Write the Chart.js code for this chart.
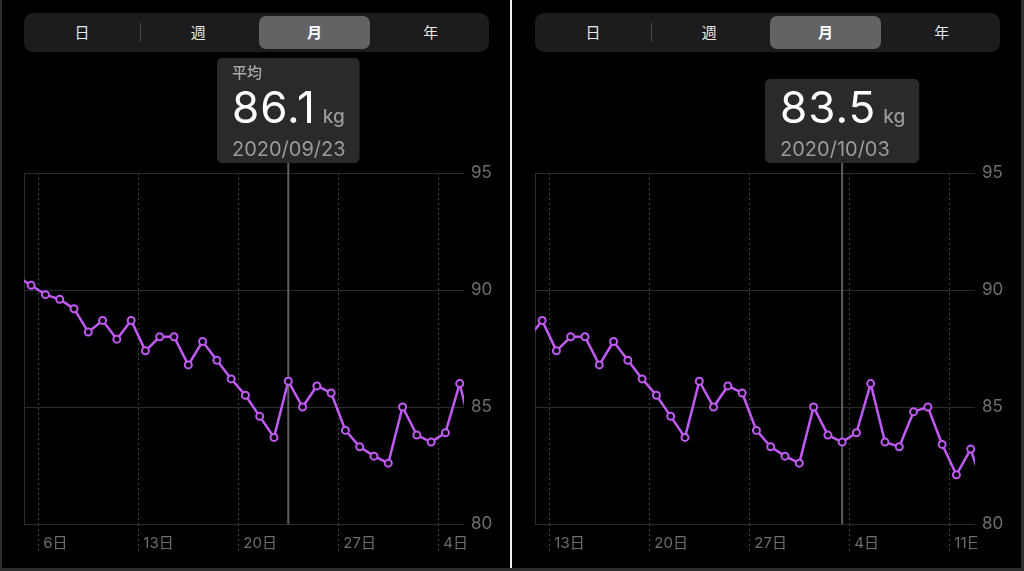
<!DOCTYPE html>
<html>
<head>
<meta charset="utf-8">
<script src="https://cdn.jsdelivr.net/npm/chart.js@4.4.1/dist/chart.umd.min.js"></script>
<style>
  body { margin: 0; background: #000; }
  #wrap { position: relative; width: 1024px; height: 571px; overflow: hidden; background: #000;
    font-family: Inter, 'Noto Sans CJK JP', sans-serif; }
  .panel { position: absolute; top: 0; width: 510px; height: 571px; }
  .panel canvas { position: absolute; left: 0; top: 0; }
  .seg { position: absolute; left: 24px; top: 13px; width: 465px; height: 39px; background: #1c1c1e;
    border-radius: 9px; display: flex; }
  .seg .thumb { position: absolute; left: 235px; top: 3px; width: 111px; height: 33px; background: #636366;
    border-radius: 7px; }
  .seg .sep { position: absolute; left: 116px; top: 10px; width: 1px; height: 19px; background: #48484a; }
  .seg span { position: relative; flex: 1; text-align: center; line-height: 39px; font-size: 15px;
    font-weight: 400; color: #e8e8e8; }
  .seg span.on { color: #fff; font-weight: 600; }
  .divider { position: absolute; left: 510px; top: 0; width: 2px; height: 571px; background: #f2f2f2; }
  .edge { position: absolute; background: #2e2e2e; }
</style>
</head>
<body>
<div id="wrap">
  <div class="panel" id="p0" style="left:0"></div>
  <div class="panel" id="p1" style="left:511px"></div>
  <div class="divider"></div>
  <div class="edge" style="left:0;top:0;width:2px;height:571px"></div>
  <div class="edge" style="right:0;top:0;width:3px;height:571px"></div>
  <div class="edge" style="left:0;bottom:0;width:1024px;height:3px"></div>
</div>
<script>
const dates = [
  '09/04', '09/05', '09/06', '09/07', '09/08', '09/09', '09/10', '09/11', '09/12', '09/13',
  '09/14', '09/15', '09/16', '09/17', '09/18', '09/19', '09/20', '09/21', '09/22', '09/23',
  '09/24', '09/25', '09/26', '09/27', '09/28', '09/29', '09/30', '10/01', '10/02', '10/03',
  '10/04', '10/05', '10/06', '10/07', '10/08', '10/09', '10/10', '10/11', '10/12', '10/13',
]
const weights = [
  90.6, 90.2, 89.8, 89.6, 89.2, 88.2, 88.7, 87.9, 88.7, 87.4,
  88.0, 88.0, 86.8, 87.8, 87.0, 86.2, 85.5, 84.6, 83.7, 86.1,
  85.0, 85.9, 85.6, 84.0, 83.3, 82.9, 82.6, 85.0, 83.8, 83.5,
  83.9, 86.0, 83.5, 83.3, 84.8, 85.0, 83.4, 82.1, 83.2, 81.3,
]
const segments = ['日', '週', '月', '年']
const activeSegment = '月'

const leftRange = [5, 35.8]
const leftTicks = [6, 13, 20, 27, 34]
const leftTickLabels = ['6日', '13日', '20日', '27日', '4日']
const leftSelected = '09/23'

const rightRange = [12, 42.8]
const rightTicks = [13, 20, 27, 34, 41]
const rightTickLabels = ['13日', '20日', '27日', '4日', '11日']
const rightSelected = '10/03'

const yMin = 80
const yMax = 95
const yStep = 5

const PURPLE = '#bf5af2'
const FONT = "Inter, 'Noto Sans CJK JP', sans-serif"

// day of month -> position on a continuous day axis, point sits mid-day
function dayPos(date) {
  const [m, d] = date.split('/').map(Number)
  return (m === 10 ? 30 + d : d) + 0.5
}

const selectionPlugin = {
  id: 'selection',
  beforeDraw(chart) {
    // keep x labels inside the plot width (the "11日" gets cut), y labels stay
    const { ctx, chartArea, width, height } = chart
    const edge = chartArea.right + 2
    ctx.save()
    ctx.beginPath()
    ctx.rect(0, 0, edge, height)
    ctx.rect(edge, 0, width - edge, chartArea.bottom + 10)
    ctx.clip()
  },
  beforeDatasetsDraw(chart, args, opts) {
    const { ctx, chartArea, scales } = chart
    ctx.restore()
    const x = scales.x.getPixelForValue(dayPos(opts.date))
    ctx.save()
    ctx.strokeStyle = '#5e5e5e'
    ctx.lineWidth = 2
    ctx.beginPath()
    ctx.moveTo(x, chartArea.top - 10)
    ctx.lineTo(x, chartArea.bottom)
    ctx.stroke()
    ctx.restore()
  },
  afterDraw(chart, args, opts) {
    const { ctx, chartArea, scales } = chart
    const x = scales.x.getPixelForValue(dayPos(opts.date))
    const value = weights[dates.indexOf(opts.date)].toFixed(1)
    const dateText = '2020/' + opts.date
    const valueFont = '400 44px ' + FONT
    const kgFont = '500 19px ' + FONT
    const dateFont = '400 20px ' + FONT

    ctx.save()
    ctx.letterSpacing = '1px'
    ctx.font = valueFont
    const vw = ctx.measureText(value).width
    ctx.letterSpacing = '0px'
    ctx.font = kgFont
    const kw = ctx.measureText('kg').width
    ctx.font = dateFont
    const dw = ctx.measureText(dateText).width
    const inner = Math.max(vw + 7 + kw, dw)
    const w = inner + 29
    const bottom = chartArea.top - 10
    const h = opts.header ? 105 : 84
    const left = x - w / 2

    ctx.fillStyle = '#2a2a2c'
    ctx.beginPath()
    ctx.roundRect(left, bottom - h, w, h, 5)
    ctx.fill()

    const tx = left + 15
    ctx.textBaseline = 'alphabetic'
    ctx.textAlign = 'left'
    if (opts.header) {
      ctx.fillStyle = '#a8a8aa'
      ctx.font = '500 15px ' + FONT
      ctx.fillText(opts.header, tx, bottom - 85)
    }
    ctx.fillStyle = '#ffffff'
    ctx.font = valueFont
    ctx.letterSpacing = '1px'
    ctx.fillText(value, tx, bottom - 40)
    ctx.letterSpacing = '0px'
    ctx.fillStyle = '#9a9a9e'
    ctx.font = kgFont
    ctx.fillText('kg', tx + vw + 7, bottom - 40)
    ctx.font = dateFont
    ctx.fillText(dateText, tx, bottom - 7)
    ctx.restore()
  },
}

function buildSegments(panel) {
  const seg = document.createElement('div')
  seg.className = 'seg'
  seg.innerHTML = '<div class="thumb"></div><div class="sep"></div>'
  segments.forEach((s) => {
    const span = document.createElement('span')
    span.textContent = s
    if (s === activeSegment) span.className = 'on'
    seg.appendChild(span)
  })
  panel.appendChild(seg)
}

function buildChart(panel, range, ticks, tickLabels, selected, header) {
  buildSegments(panel)
  const canvas = document.createElement('canvas')
  canvas.width = 510
  canvas.height = 571
  panel.appendChild(canvas)

  new Chart(canvas.getContext('2d'), {
    type: 'line',
    data: {
      datasets: [
        {
          data: dates.map((d, i) => ({ x: dayPos(d), y: weights[i] })),
          borderColor: PURPLE,
          borderWidth: 2.5,
          pointRadius: 3.5,
          pointBorderWidth: 2,
          pointBackgroundColor: '#000',
          pointBorderColor: PURPLE,
          tension: 0,
          clip: 0,
        },
      ],
    },
    options: {
      responsive: false,
      animation: false,
      events: [],
      layout: { padding: { top: 173, left: 0, right: 0, bottom: 0 } },
      plugins: {
        legend: { display: false },
        tooltip: { enabled: false },
        selection: { date: selected, header },
      },
      scales: {
        x: {
          type: 'linear',
          min: range[0],
          max: range[1],
          afterBuildTicks: (s) => {
            s.ticks = ticks.map((v) => ({ value: v }))
          },
          afterFit: (s) => {
            s.height = 47
          },
          grid: {
            color: '#444446',
            lineWidth: 1,
            drawTicks: true,
            tickLength: 27,
            tickColor: '#444446',
            tickBorderDash: [2, 3],
          },
          border: { display: false, dash: [2, 3] },
          ticks: {
            color: '#6e6e70',
            font: { size: 15, family: FONT },
            align: 'start',
            labelOffset: 5,
            padding: -17,
            maxRotation: 0,
            autoSkip: false,
            callback: (v, i) => tickLabels[i],
          },
        },
        y: {
          position: 'right',
          min: yMin,
          max: yMax,
          afterFit: (s) => {
            s.width = 46
          },
          grid: { color: '#2c2c2e', lineWidth: 1, drawTicks: false },
          border: { display: false },
          ticks: {
            stepSize: yStep,
            color: '#6e6e70',
            font: { size: 17, family: FONT },
            padding: 7,
          },
        },
        y2: {
          position: 'left',
          min: yMin,
          max: yMax,
          afterFit: (s) => {
            s.width = 24
          },
          grid: { display: false },
          border: { display: true, color: '#2c2c2e', width: 1 },
          ticks: { display: false },
        },
      },
    },
    plugins: [selectionPlugin],
  })
}

buildChart(document.getElementById('p0'), leftRange, leftTicks, leftTickLabels, leftSelected, '平均')
buildChart(document.getElementById('p1'), rightRange, rightTicks, rightTickLabels, rightSelected, null)
</script>
</body>
</html>
